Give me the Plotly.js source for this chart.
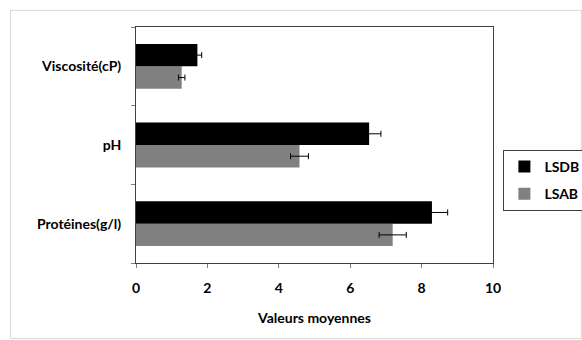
<!DOCTYPE html>
<html><head><meta charset="utf-8">
<script src="https://cdn.plot.ly/plotly-3.0.1.min.js"></script>
<style>html,body{margin:0;padding:0;background:#fff}#c{width:582px;height:340px}</style>
</head><body><div id="c"></div>
<script>
const categories = ["Protéines(g/l)", "pH", "Viscosité(cP)"];
const lsdbValues = [8.29, 6.53, 1.72];
const lsdbErrors = [0.44, 0.33, 0.12];
const lsabValues = [7.19, 4.58, 1.28];
const lsabErrors = [0.38, 0.25, 0.09];
const xTicks = [0, 2, 4, 6, 8, 10];

const fam = "Lato, 'Open Sans', sans-serif";
const font = {family: fam, size: 14, color: "#000", weight: "bold"};
const traces = [
  {type: "bar", orientation: "h", name: "LSAB", legendgroup: "b", legendrank: 2, y: categories, x: lsabValues,
   marker: {color: "#808080"},
   error_x: {type: "data", array: lsabErrors, visible: true, color: "#000", thickness: 1, width: 3}},
  {type: "bar", orientation: "h", name: "LSDB", legendgroup: "a", legendrank: 1, y: categories, x: lsdbValues,
   marker: {color: "#000000"},
   error_x: {type: "data", array: lsdbErrors, visible: true, color: "#000", thickness: 1, width: 3}}
];
const L = 135.5, R = 492.6, T = 26.7, B = 263.3;
const pw = R - L, ph = B - T;
const px = v => (v - L) / pw, py = v => (B - v) / ph;
const layout = {
  width: 582, height: 340,
  margin: {l: L, r: 582 - R, t: T, b: 340 - B, pad: 0, autoexpand: false},
  paper_bgcolor: "#fff", plot_bgcolor: "#fff",
  font: font,
  barmode: "group", bargap: 0.43, bargroupgap: 0,
  showlegend: true,
  legend: {x: px(503), y: py(150), xanchor: "left", yanchor: "top",
    bgcolor: "#fff", bordercolor: "#404040", borderwidth: 1,
    traceorder: "grouped", font: {family: fam, size: 14, color: "#000", weight: "bold"},
    itemwidth: 30, tracegroupgap: 6},
  xaxis: {range: [0, 10], tickvals: xTicks, ticktext: xTicks.map(String), automargin: false,
    showgrid: false, zeroline: false, showline: true, linecolor: "#404040", linewidth: 1,
    mirror: true, ticks: "outside", ticklen: 4, tickcolor: "#808080", ticklabelstandoff: 8,
    tickfont: {family: fam, size: 14, color: "#000", weight: "bold"},
    title: {text: "Valeurs moyennes", standoff: 18, font: {family: fam, size: 14, color: "#000", weight: "bold"}}},
  yaxis: {type: "category", categoryorder: "array", categoryarray: categories, automargin: false,
    showgrid: false, zeroline: false, showline: true, linecolor: "#404040", linewidth: 1,
    mirror: true, ticks: "outside", tickson: "boundaries", ticklen: 4, tickcolor: "#808080",
    ticklabelstandoff: 11,
    tickfont: {family: fam, size: 14, color: "#000", weight: "bold"}},
  shapes: [{type: "rect", xref: "paper", yref: "paper",
    x0: px(10), x1: px(581), y0: py(339), y1: py(10),
    line: {color: "#d9d9d9", width: 1}, fillcolor: "rgba(0,0,0,0)", layer: "below"}]
};
Plotly.newPlot("c", traces, layout, {displayModeBar: false, staticPlot: true});
</script></body></html>
